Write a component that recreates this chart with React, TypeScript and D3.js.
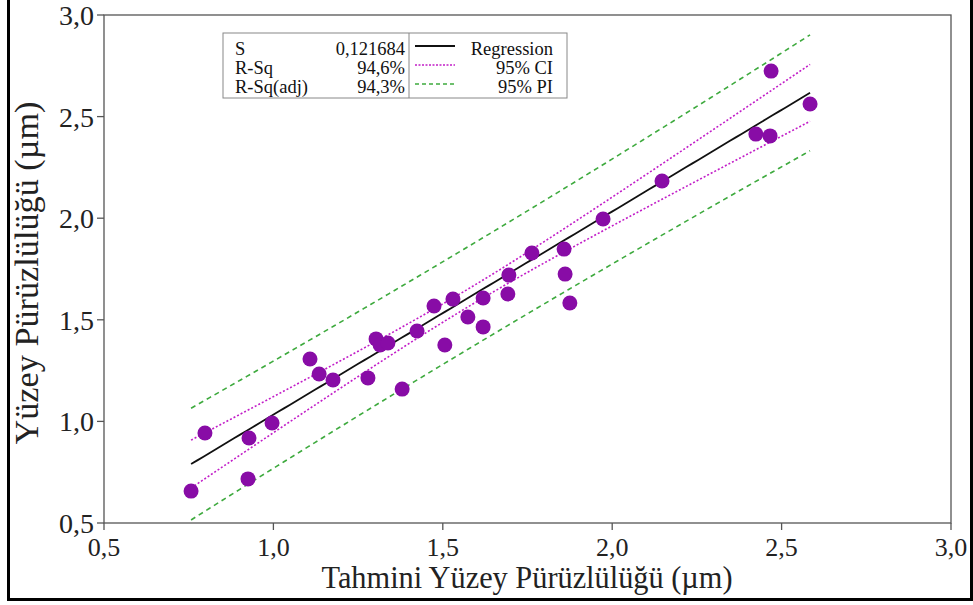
import React from "react";
import * as d3 from "d3";

// Tahmini (predicted) vs measured surface roughness
const predicted = [
  0.757, 0.798, 0.928, 0.925, 0.996, 1.108, 1.135, 1.176, 1.279, 1.303, 1.315,
  1.338, 1.38, 1.424, 1.474, 1.506, 1.53, 1.574, 1.619, 1.619, 1.692, 1.695,
  1.763, 1.858, 1.861, 1.875, 1.973, 2.147, 2.424, 2.469, 2.466, 2.584,
];
const measured = [
  0.657, 0.943, 0.918, 0.717, 0.992, 1.307, 1.233, 1.204, 1.214, 1.406, 1.376,
  1.386, 1.159, 1.445, 1.568, 1.376, 1.602, 1.514, 1.607, 1.465, 1.627, 1.72,
  1.829, 1.848, 1.725, 1.583, 1.996, 2.183, 2.414, 2.724, 2.405, 2.562,
];
const statLabels = ["S", "R-Sq", "R-Sq(adj)"];
const statValues = ["0,121684", "94,6%", "94,3%"];
// fitted model
const fitIntercept = 0.033;
const fitSlope = 1.0;
const sValue = 0.121684;
const tCrit = 2.042; // t(0.975, df=30)
const nObs = 32;
const xMeanFit = 1.582;
const sxxFit = 3.51;
const legendLabels = ["Regression", "95% CI", "95% PI"];
const xTicks = [0.5, 1.0, 1.5, 2.0, 2.5, 3.0];
const yTicks = [0.5, 1.0, 1.5, 2.0, 2.5, 3.0];
const xTitle = "Tahmini Yüzey Pürüzlülüğü (µm)";
const yTitle = "Yüzey Pürüzlülüğü (µm)";

const W = 973;
const H = 605;
const L = 104, R = 951, T = 15, B = 523;
const FONT = "Liberation Serif, Times New Roman, DejaVu Serif, serif";
const PT_COLOR = "#880ca6";
const CI_COLOR = "#c21ec8";
const PI_COLOR = "#3eaa3e";

const fmt = (v: number) => v.toFixed(1).replace(".", ",");

export default function App() {
  const x = d3.scaleLinear().domain([0.5, 3]).range([L, R]);
  const y = d3.scaleLinear().domain([0.5, 3]).range([B, T]);

  const [xmin, xmax] = d3.extent(predicted) as [number, number];
  const grid = d3.range(0, 101).map((i) => xmin + ((xmax - xmin) * i) / 100);
  const fit = (v: number) => fitIntercept + fitSlope * v;
  const ciHalf = (v: number) =>
    tCrit * sValue * Math.sqrt(1 / nObs + (v - xMeanFit) ** 2 / sxxFit);
  const piHalf = (v: number) =>
    tCrit * sValue * Math.sqrt(1 + 1 / nObs + (v - xMeanFit) ** 2 / sxxFit);

  const line = d3
    .line<[number, number]>()
    .x((d) => x(d[0]))
    .y((d) => y(d[1]));
  const path = (f: (v: number) => number) => line(grid.map((v) => [v, f(v)]))!;

  const legX = 223, legY = 33, legW = 344, legH = 65, divX = 409;
  const rowY = [49, 68, 87];
  const txt = { fontFamily: FONT };

  return (
    <svg
      width={W}
      height={H}
      style={{ position: "absolute", left: 0, top: 0, background: "#fff", fontFamily: FONT }}
    >
      <rect x={0} y={0} width={W} height={H} fill="#fff" />
      {/* outer frame */}
      <line x1={8.5} y1={0} x2={8.5} y2={601} stroke="#000" strokeWidth={3} />
      <line x1={7} y1={599.5} x2={973} y2={599.5} stroke="#000" strokeWidth={3} />
      <line x1={971.5} y1={0} x2={971.5} y2={601} stroke="#000" strokeWidth={3} />

      {/* plot box */}
      <rect x={L} y={T} width={R - L} height={B - T} fill="none" stroke="#555" strokeWidth={1.3} />

      {/* x ticks */}
      {xTicks.map((t) => (
        <g key={"x" + t}>
          <line x1={x(t)} x2={x(t)} y1={B} y2={B + 7} stroke="#555" strokeWidth={1.3} />
          <text x={x(t)} y={B + 33} fontSize={26} textAnchor="middle" fill="#222" style={txt}>
            {fmt(t)}
          </text>
        </g>
      ))}
      {/* y ticks */}
      {yTicks.map((t) => (
        <g key={"y" + t}>
          <line x1={L - 7} x2={L} y1={y(t)} y2={y(t)} stroke="#555" strokeWidth={1.3} />
          <text x={L - 10} y={y(t) + 10} fontSize={28} textAnchor="end" fill="#222" style={txt}>
            {fmt(t)}
          </text>
        </g>
      ))}

      {/* axis titles */}
      <text
        x={527}
        y={588}
        fontSize={31}
        textAnchor="middle"
        fill="#222"
        style={txt}
        textLength={411}
        lengthAdjust="spacingAndGlyphs"
      >
        {xTitle}
      </text>
      <text
        transform={`translate(38, 273) rotate(-90)`}
        fontSize={33}
        textAnchor="middle"
        fill="#222"
        style={txt}
        textLength={343}
        lengthAdjust="spacingAndGlyphs"
      >
        {yTitle}
      </text>

      {/* bands */}
      <path d={path((v) => fit(v) + piHalf(v))} fill="none" stroke={PI_COLOR} strokeWidth={1.6} strokeDasharray="5,4" />
      <path d={path((v) => fit(v) - piHalf(v))} fill="none" stroke={PI_COLOR} strokeWidth={1.6} strokeDasharray="5,4" />
      <path d={path((v) => fit(v) + ciHalf(v))} fill="none" stroke={CI_COLOR} strokeWidth={1.6} strokeDasharray="2,2" />
      <path d={path((v) => fit(v) - ciHalf(v))} fill="none" stroke={CI_COLOR} strokeWidth={1.6} strokeDasharray="2,2" />
      <path d={path(fit)} fill="none" stroke="#111" strokeWidth={1.8} />

      {/* points */}
      {predicted.map((p, i) => (
        <circle key={i} cx={x(p)} cy={y(measured[i])} r={7.5} fill={PT_COLOR} />
      ))}

      {/* legend */}
      <rect x={legX} y={legY} width={legW} height={legH} fill="#fff" stroke="#888" strokeWidth={1} />
      <line x1={divX} x2={divX} y1={legY} y2={legY + legH} stroke="#888" strokeWidth={1} />
      {statLabels.map((s, i) => (
        <g key={s}>
          <text x={235} y={rowY[i] + 6} fontSize={18.5} fill="#111" style={txt}>
            {s}
          </text>
          <text x={405} y={rowY[i] + 6} fontSize={18.5} textAnchor="end" fill="#111" style={txt}>
            {statValues[i]}
          </text>
        </g>
      ))}
      {legendLabels.map((s, i) => (
        <g key={s}>
          <line
            x1={415}
            x2={455}
            y1={rowY[i] - 3}
            y2={rowY[i] - 3}
            stroke={i === 0 ? "#111" : i === 1 ? CI_COLOR : PI_COLOR}
            strokeWidth={i === 0 ? 1.8 : 1.5}
            strokeDasharray={i === 0 ? undefined : i === 1 ? "2,1.5" : "4,3"}
          />
          <text x={553} y={rowY[i] + 6} fontSize={18.5} textAnchor="end" fill="#111" style={txt}>
            {s}
          </text>
        </g>
      ))}
    </svg>
  );
}
